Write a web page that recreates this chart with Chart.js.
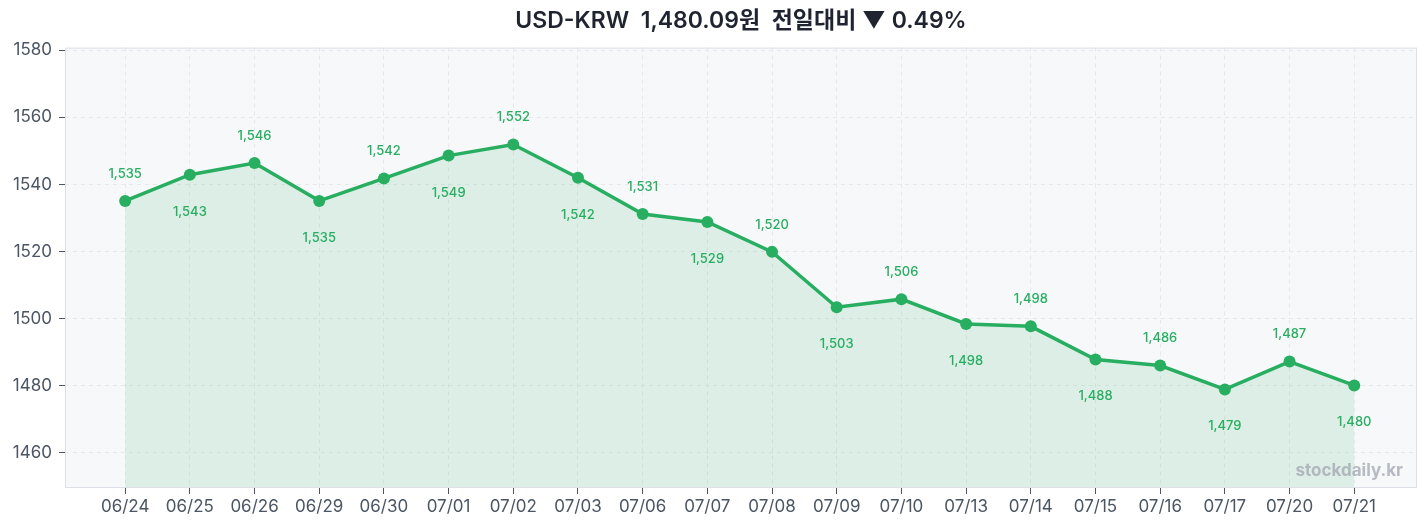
<!DOCTYPE html>
<html>
<head>
<meta charset="utf-8">
<script src="https://cdn.jsdelivr.net/npm/chart.js@4.4.1/dist/chart.umd.min.js"></script>
<style>
  html, body { margin: 0; padding: 0; background: #fff; }
  #wrap { width: 1427px; height: 529px; }
</style>
</head>
<body>
<div id="wrap"><canvas id="fxChart" width="1427" height="529"></canvas></div>
<script>
// data
const dates = ['06/24','06/25','06/26','06/29','06/30','07/01','07/02','07/03','07/06','07/07',
               '07/08','07/09','07/10','07/13','07/14','07/15','07/16','07/17','07/20','07/21'];
const rates = [1535.1, 1542.9, 1546.4, 1535.1, 1541.8, 1548.6, 1551.9, 1542.0, 1531.2, 1528.8,
               1519.9, 1503.4, 1505.8, 1498.4, 1497.7, 1487.8, 1486.0, 1478.9, 1487.2, 1480.09];
const yTicks = [1460, 1480, 1500, 1520, 1540, 1560, 1580];
const titleText = 'USD-KRW  1,480.09원  전일대비 ▼ 0.49%';
const watermark = 'stockdaily.kr';

const GREEN = '#27ae60';
const FONT = "Inter, 'Noto Sans CJK KR', 'Noto Sans', sans-serif";

// plot area background + frame
const areaBg = {
  id: 'areaBg',
  beforeDraw(chart) {
    const { ctx, chartArea: a } = chart;
    ctx.save();
    ctx.fillStyle = '#f7f8fa';
    ctx.fillRect(a.left, a.top, a.right - a.left, a.bottom - a.top);
    ctx.restore();
  },
  afterDraw(chart) {
    const { ctx, chartArea: a } = chart;
    ctx.save();
    ctx.strokeStyle = '#dde0e6';
    ctx.lineWidth = 1;
    ctx.strokeRect(a.left + 0.5, a.top + 0.5, a.right - a.left - 1, a.bottom - a.top - 1);
    ctx.restore();
  }
};

// value labels, alternating above / below
const valueLabels = {
  id: 'valueLabels',
  afterDatasetsDraw(chart) {
    const { ctx, chartArea: a } = chart;
    const meta = chart.getDatasetMeta(0);
    ctx.save();
    ctx.font = '500 13px ' + FONT;
    ctx.fillStyle = GREEN;
    ctx.textAlign = 'center';
    ctx.textBaseline = 'middle';
    meta.data.forEach((pt, i) => {
      const txt = Math.round(rates[i]).toLocaleString('en-US');
      const y = i % 2 === 0 ? pt.y - 27 : pt.y + 37;
      ctx.fillText(txt, pt.x, y);
    });
    // watermark
    ctx.font = 'bold 17px ' + FONT;
    ctx.fillStyle = 'rgba(160,166,176,0.75)';
    ctx.textAlign = 'right';
    ctx.fillText(watermark, a.right - 14, a.bottom - 17);
    ctx.restore();
  }
};

const ctx = document.getElementById('fxChart').getContext('2d');
new Chart(ctx, {
  type: 'line',
  data: {
    datasets: [{
      label: 'USD-KRW',
      data: rates.map((v, i) => ({ x: i, y: v })),
      borderColor: GREEN,
      backgroundColor: 'rgba(34,170,90,0.12)',
      borderWidth: 3.5,
      pointRadius: 6,
      pointBackgroundColor: GREEN,
      pointBorderWidth: 0,
      tension: 0,
      fill: 'start'
    }]
  },
  options: {
    responsive: false,
    animation: false,
    layout: { padding: { left: 0, right: 10, top: 0, bottom: 0 } },
    scales: {
      x: {
        type: 'linear',
        min: -0.93,
        max: 19.97,
        afterBuildTicks: s => { s.ticks = dates.map((_, i) => ({ value: i })); },
        afterFit: s => { s.height = 41; },
        ticks: {
          callback: (v) => dates[v],
          font: { family: FONT, size: 17 },
          color: '#4b5563',
          padding: 3,
          maxRotation: 0,
          autoSkip: false
        },
        grid: { color: '#e6e8ec', tickColor: '#4b5563', tickLength: 6, tickBorderDash: [] },
        border: { display: false, dash: [4, 4] }
      },
      y: {
        min: 1449.5,
        max: 1580.8,
        afterBuildTicks: s => { s.ticks = yTicks.map(v => ({ value: v })); },
        afterFit: s => { s.width = 65; },
        ticks: {
          callback: (v) => String(v),
          font: { family: FONT, size: 17 },
          color: '#4b5563',
          padding: 7
        },
        grid: { color: '#e6e8ec', tickColor: '#4b5563', tickLength: 6, tickBorderDash: [] },
        border: { display: false, dash: [4, 4] }
      }
    },
    plugins: {
      legend: { display: false },
      tooltip: { enabled: false },
      title: {
        display: true,
        text: titleText,
        fullSize: false,
        color: '#1f2430',
        font: { family: FONT, size: 23, weight: '600' },
        padding: { top: 7, bottom: 13 }
      }
    }
  },
  plugins: [areaBg, valueLabels]
});
</script>
</body>
</html>
